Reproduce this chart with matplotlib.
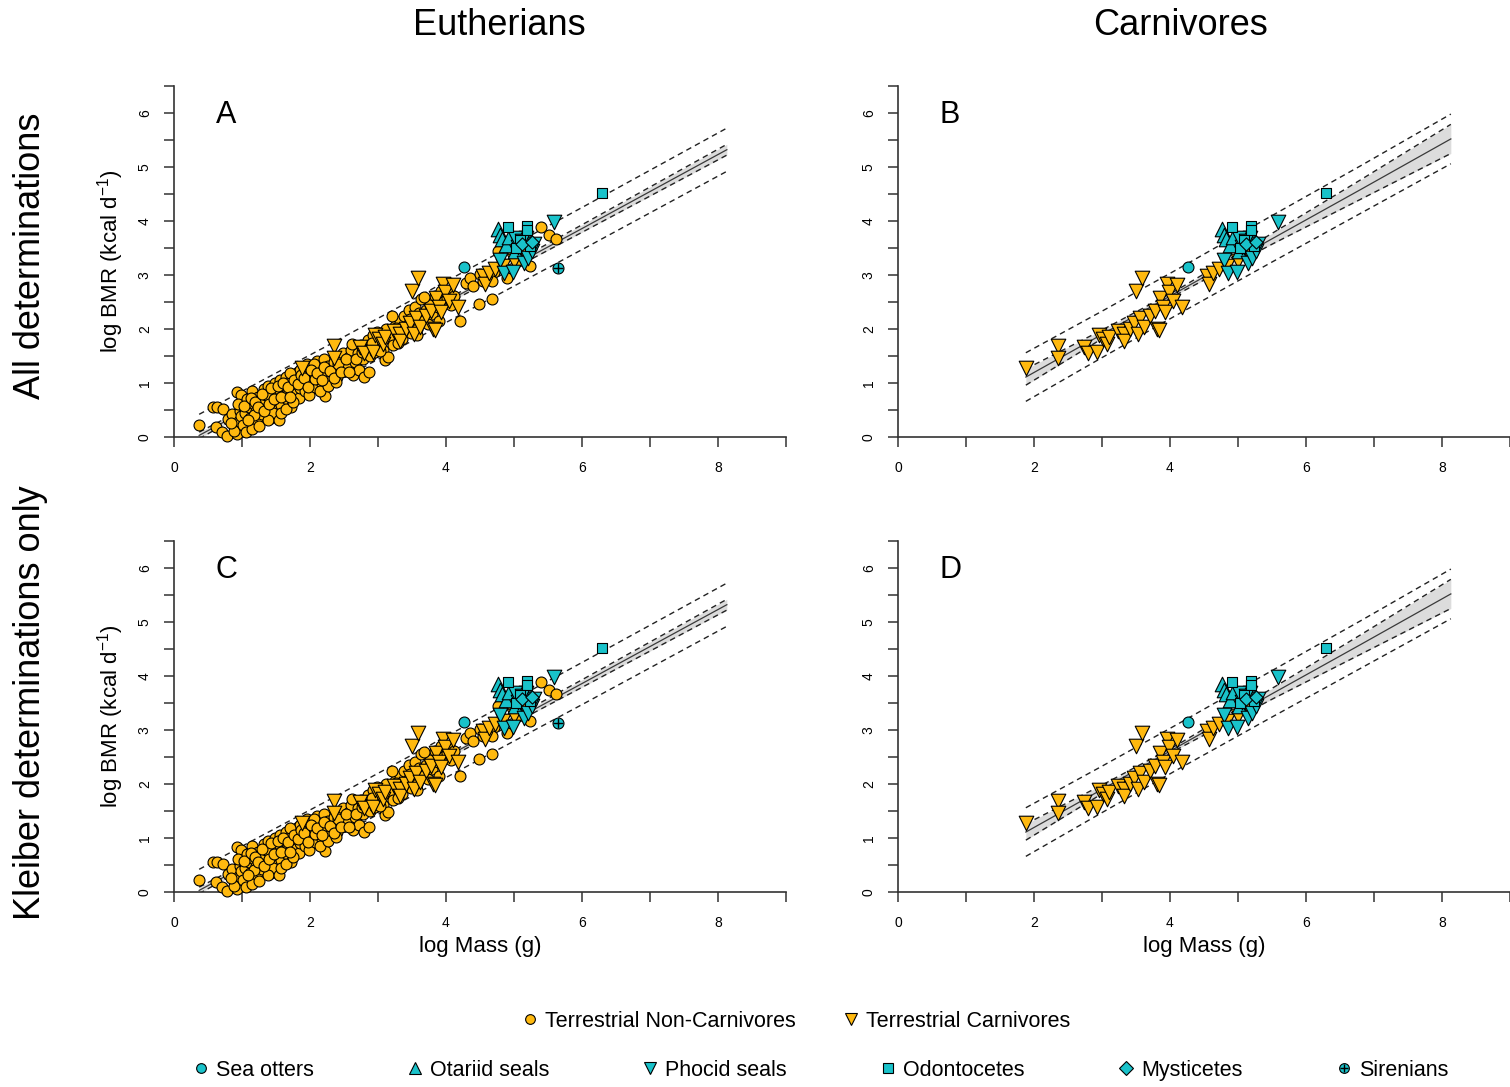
import numpy as np
import matplotlib
matplotlib.use('Agg')
import matplotlib.pyplot as plt
from matplotlib.lines import Line2D
from matplotlib.legend_handler import HandlerTuple

plt.rcParams['font.family'] = ['Liberation Sans', 'DejaVu Sans']
plt.rcParams['mathtext.fontset'] = 'custom'
plt.rcParams['mathtext.rm'] = 'Liberation Sans'
plt.rcParams['mathtext.default'] = 'regular'

ORANGE = '#FFB90F'
CYAN = '#19C2CA'

# Terrestrial non-carnivores (log mass, log BMR)
nc_x = [0.37, 0.57, 0.63, 0.72, 0.62, 0.70, 0.78, 0.93, 0.92, 0.98, 0.80, 0.86, 0.90, 0.95, 0.88,
        0.97, 1.00, 0.99, 0.84, 0.94,
        1.02, 1.05, 1.08, 1.10, 1.12, 1.15, 1.17, 1.20, 1.22, 1.24, 1.27, 1.30, 1.32, 1.34, 1.36,
        1.38, 1.40, 1.42, 1.44, 1.46, 1.48, 1.50, 1.06, 1.14, 1.25, 1.18, 1.28, 1.35, 1.45, 1.38, 1.55,
        1.52, 1.54, 1.56, 1.58, 1.60, 1.62, 1.64, 1.66, 1.68, 1.70, 1.72, 1.74, 1.76, 1.78, 1.80,
        1.82, 1.84, 1.86, 1.88, 1.90, 1.92, 1.94, 1.96, 1.98, 1.58, 1.65, 1.75, 1.85, 1.95, 1.70,
        2.02, 2.05, 2.08, 2.10, 2.12, 2.15, 2.18, 2.20, 2.22, 2.24, 2.27, 2.30, 2.33, 2.36, 2.40,
        2.43, 2.46, 2.50, 2.06, 2.14, 2.26, 2.38, 2.48,
        2.55, 2.58, 2.60, 2.63, 2.66, 2.70, 2.72, 2.75, 2.78, 2.80, 2.82, 2.85, 2.88, 2.90, 2.93,
        2.96, 2.98, 2.62, 2.87,
        3.02, 3.05, 3.08, 3.10, 3.15, 3.12, 3.18, 3.22, 3.25, 3.28, 3.32, 3.35, 3.38, 3.42, 3.45,
        3.48, 3.20, 3.30,
        3.52, 3.55, 3.58, 3.60, 3.63, 3.66, 3.70, 3.73, 3.76, 3.80, 3.84, 3.88, 3.90, 3.93, 3.96,
        3.58, 3.68,
        4.02, 4.05, 4.08, 4.12, 4.20, 4.30, 4.35, 4.49, 4.40, 4.55, 4.60, 4.67, 4.50, 4.70,
        4.77, 4.83, 4.90, 5.23, 5.39, 5.52, 5.62, 5.13, 4.96, 4.67, 5.06,
        1.03, 1.09, 1.13, 1.19, 1.23, 1.29, 1.33, 1.39, 1.43, 1.47, 1.53, 1.57, 1.61, 1.67, 1.71,
        1.77, 1.83, 1.87, 1.91, 1.97, 2.01, 2.07, 2.11, 2.17, 2.21, 2.29, 2.35, 2.41, 2.45, 2.53,
        2.57, 2.67, 2.77, 2.91, 3.03, 3.27, 3.37, 3.47]
nc_y = [0.22, 0.55, 0.55, 0.52, 0.18, 0.09, 0.02, 0.05, 0.83, 0.77, 0.34, 0.43, 0.20, 0.30, 0.12,
        0.48, 0.60, 0.38, 0.26, 0.62,
        0.22, 0.45, 0.70, 0.55, 0.35, 0.86, 0.62, 0.48, 0.30, 0.75, 0.58, 0.42, 0.88, 0.66, 0.52,
        0.95, 0.72, 0.36, 0.60, 0.82, 1.00, 0.50, 0.10, 0.15, 0.20, 0.40, 0.70, 0.78, 0.45, 0.32, 0.32,
        0.68, 0.88, 1.05, 0.60, 0.78, 0.95, 1.12, 0.70, 0.85, 1.02, 0.55, 0.92, 1.15, 0.80, 1.00,
        1.20, 0.72, 0.90, 1.08, 1.30, 0.85, 1.00, 1.18, 0.78, 0.45, 0.52, 0.65, 1.25, 1.35, 1.18,
        1.05, 1.22, 0.92, 1.40, 1.10, 1.28, 0.98, 1.45, 0.76, 1.15, 1.32, 1.05, 1.20, 1.38, 1.12,
        1.28, 1.45, 1.22, 1.35, 0.85, 0.95, 1.02, 1.55,
        1.30, 1.48, 1.62, 1.15, 1.38, 1.55, 1.25, 1.70, 1.45, 1.12, 1.62, 1.80, 1.50, 1.68, 1.88,
        1.58, 1.95, 1.72, 1.20,
        1.75, 1.90, 1.62, 1.42, 1.48, 2.00, 1.85, 1.70, 2.05, 1.95, 2.15, 1.82, 2.25, 2.05, 2.35,
        1.92, 2.25, 1.75,
        2.20, 2.40, 2.00, 2.30, 2.55, 2.15, 2.35, 2.10, 2.45, 2.28, 2.62, 2.40, 2.15, 2.70, 2.50,
        1.88, 2.60,
        2.58, 2.70, 2.45, 2.62, 2.15, 2.85, 2.95, 2.46, 2.80, 2.88, 2.95, 2.55, 3.02, 3.05,
        3.45, 3.23, 2.95, 3.17, 3.88, 3.75, 3.66, 3.57, 3.48, 2.89, 3.26,
        0.58, 0.32, 0.72, 0.65, 0.55, 0.80, 0.48, 0.62, 0.90, 0.70, 0.95, 0.75, 1.00, 0.92, 0.75,
        1.05, 0.98, 1.15, 1.10, 0.92, 1.25, 1.08, 1.18, 1.05, 1.30, 1.22, 1.10, 1.35, 1.20, 1.45,
        1.20, 1.45, 1.58, 1.75, 1.60, 2.02, 1.98, 2.18]

# Terrestrial carnivores
tc_x = [1.88, 2.36, 2.36, 2.74, 2.79, 2.92, 2.95, 3.01, 3.07, 3.10, 3.24, 3.32, 3.32, 3.41, 3.47,
        3.50, 3.59, 3.53, 3.56, 3.62, 3.71, 3.78, 3.81, 3.84, 3.85, 3.90, 3.93, 3.96, 3.99, 4.05,
        4.11, 4.17, 4.54, 4.57, 4.63, 4.72, 4.84, 5.00, 5.15]
tc_y = [1.28, 1.69, 1.46, 1.66, 1.55, 1.57, 1.88, 1.82, 1.72, 1.86, 1.97, 1.91, 1.78, 2.00, 2.12,
        2.71, 2.95, 1.91, 2.20, 2.03, 2.25, 2.34, 2.00, 1.98, 2.58, 2.40, 2.31, 2.83, 2.68, 2.52,
        2.82, 2.40, 2.98, 2.83, 3.03, 3.11, 3.17, 3.26, 3.42]

# Marine groups
otter_x, otter_y = [4.26], [3.14]
otariid_x = [4.77, 4.79, 4.82, 4.88, 4.92, 5.02]
otariid_y = [3.85, 3.75, 3.66, 3.55, 3.70, 3.45]
phocid_x = [5.59, 4.80, 4.86, 4.98, 5.15, 5.21, 5.27, 5.06, 5.18, 5.30, 5.02, 5.12]
phocid_y = [3.99, 3.28, 3.03, 3.05, 3.23, 3.32, 3.45, 3.51, 3.69, 3.57, 3.69, 3.63]
odont_x = [6.30, 4.91, 5.19, 5.19, 5.24, 5.09, 5.03]
odont_y = [4.51, 3.89, 3.91, 3.83, 3.54, 3.65, 3.50]
myst_x = [5.12, 5.26]
myst_y = [3.58, 3.62]
siren_x, siren_y = [5.64], [3.13]

# Fitted lines: fit, CI and PI half-widths
eu_fx = [0.37, 1.3, 2.3, 4.0, 6.0, 8.13]
eu_fy = [0.03, 0.66, 1.34, 2.50, 3.86, 5.32]
eu_ci = [0.06, 0.04, 0.02, 0.04, 0.07, 0.10]
eu_pi = [0.39, 0.39, 0.38, 0.38, 0.39, 0.40]

ca_fx = [1.88, 3.0, 4.1, 5.5, 6.8, 8.13]
ca_fy = [1.11, 1.90, 2.68, 3.67, 4.58, 5.52]
ca_ci = [0.15, 0.08, 0.04, 0.10, 0.18, 0.27]
ca_pi = [0.45, 0.43, 0.42, 0.43, 0.44, 0.46]

panel_letters = ['A', 'B', 'C', 'D']


def draw_fit(ax, fx, fy, ci, pi):
    fx, fy, ci, pi = map(np.array, (fx, fy, ci, pi))
    ax.fill_between(fx, fy - ci, fy + ci, color='#DCDCDC', lw=0, zorder=1)
    ax.plot(fx, fy, color='#3a3a3a', lw=0.9, zorder=2)
    for off in (ci, -ci, pi, -pi):
        ax.plot(fx, fy + off, color='#222222', lw=1.0, ls=(0, (4, 3)), zorder=2)


def pts(ax, x, y, marker, color, s):
    ax.scatter(x, y, marker=marker, s=s, c=color, edgecolors='black',
               linewidths=0.8, zorder=3, clip_on=False)


def draw_panel(ax, carnivores_only, letter, xlabel, ylabel):
    if carnivores_only:
        draw_fit(ax, ca_fx, ca_fy, ca_ci, ca_pi)
    else:
        draw_fit(ax, eu_fx, eu_fy, eu_ci, eu_pi)
        pts(ax, nc_x, nc_y, 'o', ORANGE, 62)
    pts(ax, tc_x, tc_y, 'v', ORANGE, 110)
    pts(ax, otter_x, otter_y, 'o', CYAN, 62)
    pts(ax, otariid_x, otariid_y, '^', CYAN, 110)
    pts(ax, phocid_x, phocid_y, 'v', CYAN, 110)
    pts(ax, odont_x, odont_y, 's', CYAN, 58)
    pts(ax, myst_x, myst_y, 'D', CYAN, 45)
    if not carnivores_only:
        pts(ax, siren_x, siren_y, 'o', CYAN, 62)
        ax.scatter(siren_x, siren_y, marker='+', s=45, c='black', linewidths=1, zorder=4)

    ax.set_xlim(0, 9)
    ax.set_ylim(0, 6.5)
    for sp in ['top', 'right']:
        ax.spines[sp].set_visible(False)
    for sp in ['left', 'bottom']:
        ax.spines[sp].set_linewidth(1.2)
        ax.spines[sp].set_color('#333333')
    ax.set_xticks([0, 2, 4, 6, 8])
    ax.set_xticks([1, 3, 5, 7, 9], minor=True)
    ax.set_yticks(range(0, 7))
    ax.set_yticks(np.arange(0.5, 7, 1.0), minor=True)
    ax.tick_params(which='both', direction='out', length=7, width=1.1, color='#333333')
    ax.tick_params(axis='x', pad=10, labelsize=10)
    ax.tick_params(axis='y', pad=9, labelsize=10, labelrotation=90)
    for lab in ax.get_yticklabels():
        lab.set_va('center')
    ax.text(0.085, 0.917, letter, transform=ax.transAxes, fontsize=22,
            ha='center', va='center')
    if xlabel:
        ax.set_xlabel('log Mass (g)', fontsize=16)
        ax.xaxis.set_label_coords(0.5, -0.125)
    if ylabel:
        ax.set_ylabel('log BMR (kcal d$^{-1}$)', fontsize=16)
        ax.yaxis.set_label_coords(-0.078, 0.5)


fig = plt.figure(figsize=(15.1, 10.87), dpi=100)
w, h = 612 / 1510, 351 / 1087
lefts = [174 / 1510, 898 / 1510]
bottoms = [(1087 - 437) / 1087, (1087 - 892) / 1087]

k = 0
for r in range(2):
    for c in range(2):
        ax = fig.add_axes([lefts[c], bottoms[r], w, h])
        draw_panel(ax, c == 1, panel_letters[k], r == 1, c == 0)
        k += 1

fig.text(0.331, 0.977, 'Eutherians', fontsize=26, ha='center', va='center')
fig.text(0.782, 0.977, 'Carnivores', fontsize=26, ha='center', va='center')
fig.text(0.02, 0.765, 'All determinations', fontsize=26, rotation=90, ha='center', va='center')
fig.text(0.02, 0.354, 'Kleiber determinations only', fontsize=26, rotation=90,
         ha='center', va='center')


def mk(marker, color, ms=8):
    return Line2D([], [], ls='none', marker=marker, markersize=ms,
                  markerfacecolor=color, markeredgecolor='black', markeredgewidth=0.8)


row1 = [mk('o', ORANGE, 7), mk('v', ORANGE, 9)]
fig.legend(row1, ['Terrestrial Non-Carnivores', 'Terrestrial Carnivores'],
           loc='center', bbox_to_anchor=(0.527, 0.0607), ncol=2, frameon=False,
           fontsize=15.5, handlelength=0.8, handletextpad=0.3, columnspacing=2.2)

siren_h = (mk('o', CYAN, 7), Line2D([], [], ls='none', marker='+', markersize=6,
                                     color='black', markeredgewidth=1))
row2 = [mk('o', CYAN, 7), mk('^', CYAN, 9), mk('v', CYAN, 9), mk('s', CYAN, 7),
        mk('D', CYAN, 7), siren_h]
fig.legend(row2, ['Sea otters', 'Otariid seals', 'Phocid seals', 'Odontocetes',
                  'Mysticetes', 'Sirenians'],
           loc='center', bbox_to_anchor=(0.543, 0.0156), ncol=6, frameon=False,
           fontsize=15.5, handlelength=0.8, handletextpad=0.3, columnspacing=4.3,
           handler_map={tuple: HandlerTuple(ndivide=1, pad=0)})

fig.savefig('out.png', dpi=100)
